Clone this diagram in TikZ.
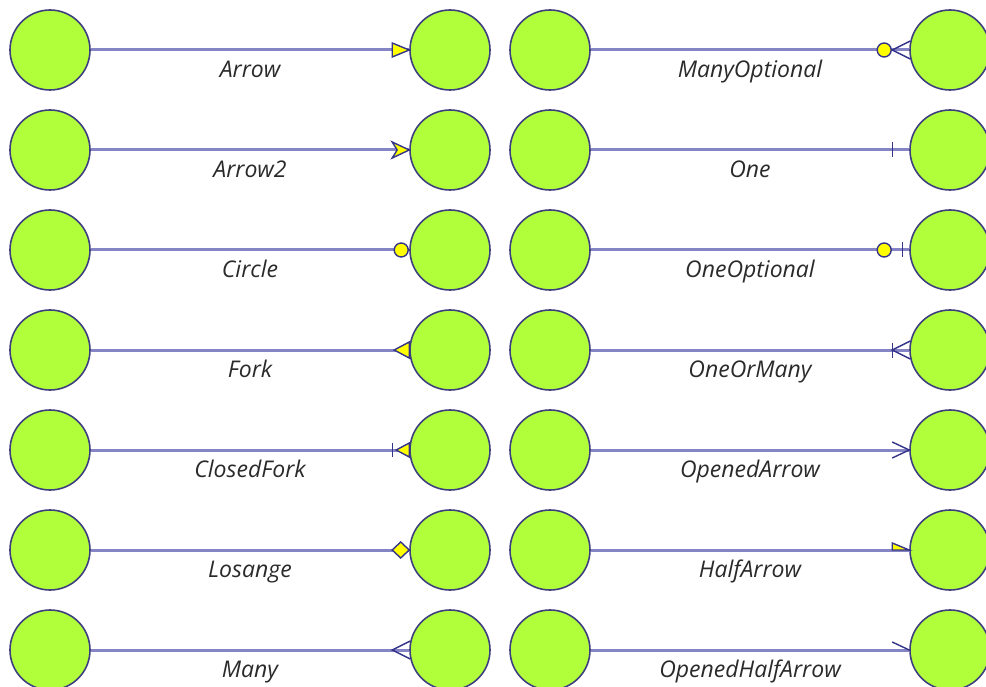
\documentclass[tikz,border=0pt]{standalone}
\usepackage{fontspec}
\setmainfont{Open Sans}
\definecolor{entfill}{HTML}{B0FF3A}
\definecolor{entedge}{HTML}{3F3F80}
\definecolor{relline}{HTML}{8585C5}
\definecolor{tipedge}{HTML}{34348A}
\definecolor{tipfill}{HTML}{FFFF00}
\definecolor{lbltext}{HTML}{2A2A2A}
\tikzset{
  ent/.style={circle, draw=entedge, fill=entfill, line width=1.6pt, minimum size=80pt, inner sep=0pt},
  rel/.style={draw=relline, line width=3pt},
  tipln/.style={draw=tipedge, line width=1.4pt, line join=miter},
  tipfl/.style={tipln, fill=tipfill},
  lbl/.style={font=\itshape\fontsize{23}{27}\selectfont, text=lbltext, midway, anchor=base, yshift=-27.5pt, inner sep=0pt},
  % end markers, drawn with the origin on the target's border, pointing right
  endArrow/.pic={\filldraw[tipfl] (-17,-7) -- (0,0) -- (-17,7) -- cycle;},
  endArrowTwo/.pic={\filldraw[tipfl] (-17,-8) -- (0,0) -- (-17,8) -- (-12,0) -- cycle;},
  endCircle/.pic={\filldraw[tipfl] (-8,0) circle[radius=7pt];},
  endFork/.pic={\filldraw[tipfl] (0,-8) -- (-15,0) -- (0,8) -- cycle;},
  endClosedFork/.pic={\filldraw[tipfl] (0,-7) -- (-13,0) -- (0,7) -- cycle;
                      \draw[tipln] (-17,-7) -- (-17,7);},
  endLosange/.pic={\filldraw[tipfl] (0,0) -- (-8.5,-8) -- (-17,0) -- (-8.5,8) -- cycle;},
  endMany/.pic={\draw[tipln] (1,-9) -- (-17,0) -- (1,9);},
  endManyOptional/.pic={\draw[tipln] (1,-9) -- (-17,0) -- (1,9);
                        \filldraw[tipfl] (-25,0) circle[radius=7pt];},
  endOne/.pic={\draw[tipln] (-17,-7.5) -- (-17,7.5);},
  endOneOptional/.pic={\draw[tipln] (-7,-7.5) -- (-7,7.5);
                       \filldraw[tipfl] (-25,0) circle[radius=7pt];},
  endOneOrMany/.pic={\draw[tipln] (1,-9) -- (-17,0) -- (1,9);
                     \draw[tipln] (-17,-7.5) -- (-17,7.5);},
  endOpenedArrow/.pic={\draw[tipln] (-17,-8) -- (0,0) -- (-17,8);},
  endHalfArrow/.pic={\filldraw[tipfl] (-17,-7) -- (0,0) -- (-17,0) -- cycle;},
  endOpenedHalfArrow/.pic={\draw[tipln] (-17,-8) -- (0,0);}
}
\begin{document}
\begin{tikzpicture}[x=1pt, y=-1pt]
\useasboundingbox (0,0) rectangle (986,687);

% entities, one row per relation end type
\foreach \k in {1,...,7} {
  \node[ent] (a\k) at (50,  {100*\k-50}) {};
  \node[ent] (b\k) at (450, {100*\k-50}) {};
  \node[ent] (c\k) at (550, {100*\k-50}) {};
  \node[ent] (d\k) at (950, {100*\k-50}) {};
}

% left column of relations
\draw[rel] (a1) -- (b1) node[lbl] {Arrow};
\draw[rel] (a2) -- (b2) node[lbl] {Arrow2};
\draw[rel] (a3) -- (b3) node[lbl] {Circle};
\draw[rel] (a4) -- (b4) node[lbl] {Fork};
\draw[rel] (a5) -- (b5) node[lbl] {ClosedFork};
\draw[rel] (a6) -- (b6) node[lbl] {Losange};
\draw[rel] (a7) -- (b7) node[lbl] {Many};

\pic at (b1.west) {endArrow};
\pic at (b2.west) {endArrowTwo};
\pic at (b3.west) {endCircle};
\pic at (b4.west) {endFork};
\pic at (b5.west) {endClosedFork};
\pic at (b6.west) {endLosange};
\pic at (b7.west) {endMany};

% right column of relations
\draw[rel] (c1) -- (d1) node[lbl] {ManyOptional};
\draw[rel] (c2) -- (d2) node[lbl] {One};
\draw[rel] (c3) -- (d3) node[lbl] {OneOptional};
\draw[rel] (c4) -- (d4) node[lbl] {OneOrMany};
\draw[rel] (c5) -- (d5) node[lbl] {OpenedArrow};
\draw[rel] (c6) -- (d6) node[lbl] {HalfArrow};
\draw[rel] (c7) -- (d7) node[lbl] {OpenedHalfArrow};

\pic at (d1.west) {endManyOptional};
\pic at (d2.west) {endOne};
\pic at (d3.west) {endOneOptional};
\pic at (d4.west) {endOneOrMany};
\pic at (d5.west) {endOpenedArrow};
\pic at (d6.west) {endHalfArrow};
\pic at (d7.west) {endOpenedHalfArrow};
\end{tikzpicture}
\end{document}
